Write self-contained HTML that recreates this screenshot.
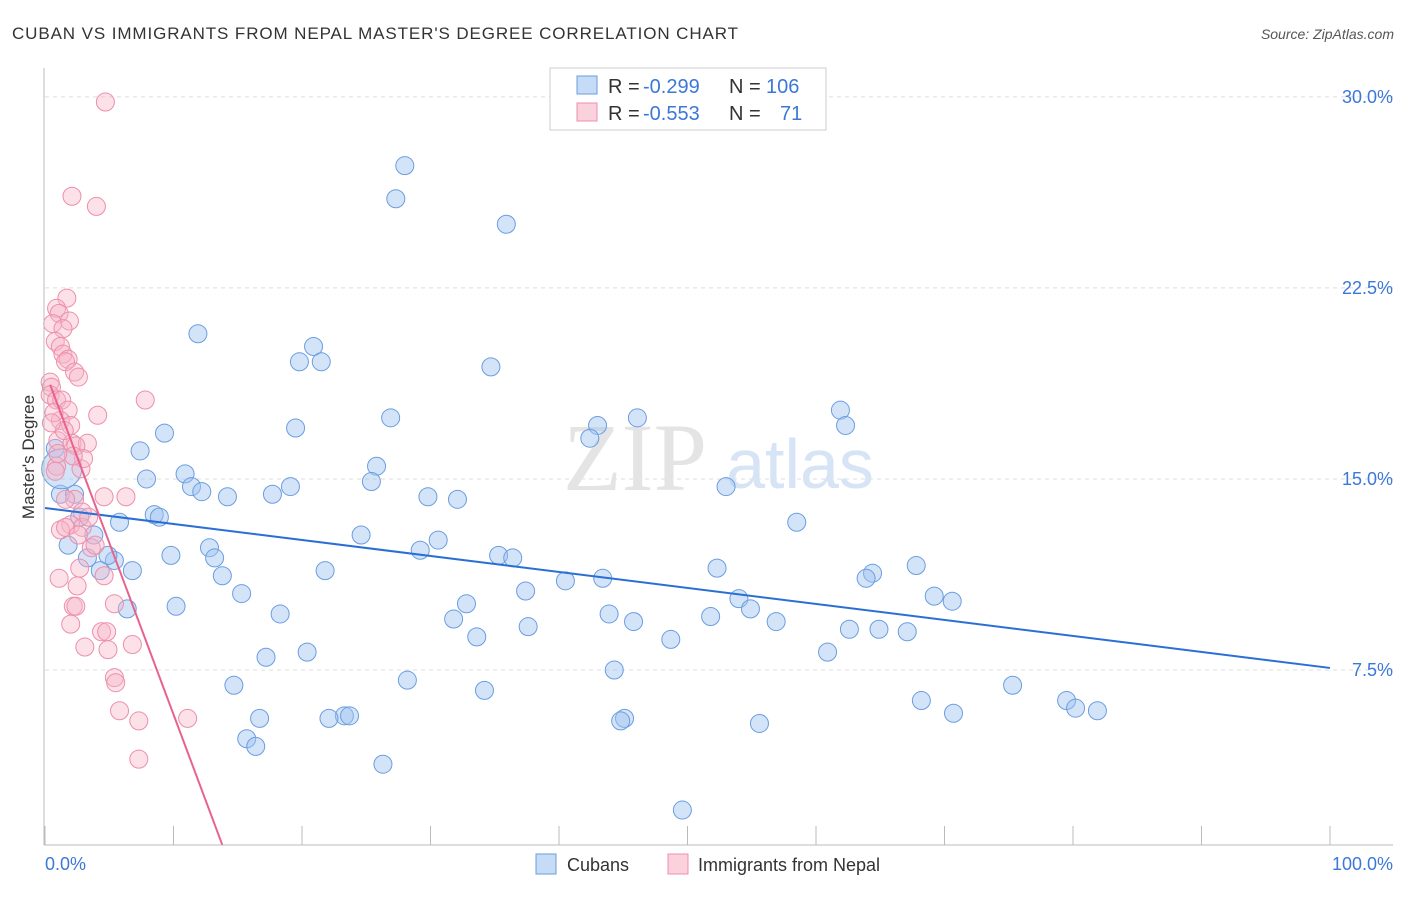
<!DOCTYPE html>
<html><head><meta charset="utf-8"><style>
body{margin:0;background:#fff;font-family:"Liberation Sans",sans-serif}
</style></head><body>
<svg width="1406" height="892" xmlns="http://www.w3.org/2000/svg" font-family="Liberation Sans, sans-serif">
<text x="12" y="39" font-size="17" fill="#333" textLength="726" lengthAdjust="spacing">CUBAN VS IMMIGRANTS FROM NEPAL MASTER'S DEGREE CORRELATION CHART</text>
<text x="1394" y="39" font-size="14" fill="#555" font-style="italic" text-anchor="end">Source: ZipAtlas.com</text>
<g id="grid"></g>
<text x="635" y="490" font-size="96" fill="#e4e4e4" font-family="Liberation Serif, serif" text-anchor="middle">ZIP</text>
<text x="800" y="488" font-size="70" fill="#d6e4f5" text-anchor="middle">atlas</text>
<g id="pts"></g>
<g id="lines"></g>
<line x1="44" y1="68" x2="44" y2="845" stroke="#bbb"/>
<line x1="44" y1="845" x2="1393" y2="845" stroke="#bbb"/>
<text x="34" y="457" font-size="17" fill="#333" text-anchor="middle" transform="rotate(-90 34 457)">Master's Degree</text>
<text x="45" y="870" font-size="18" fill="#3b78d8">0.0%</text>
<text x="1393" y="870" font-size="18" fill="#3b78d8" text-anchor="end">100.0%</text>
<g>
<rect x="550" y="68" width="276" height="62" fill="#fff" stroke="#ccc"/>
<rect x="577" y="76" width="20" height="18" fill="#c6dbf5" stroke="#6a9de0"/>
<rect x="577" y="103" width="20" height="18" fill="#fbd1dd" stroke="#ec8fab"/>
<text y="93" font-size="20" fill="#333"><tspan x="608">R =</tspan><tspan x="643" fill="#3b78d8">-0.299</tspan><tspan x="729">N =</tspan><tspan x="766" fill="#3b78d8">106</tspan></text>
<text y="120" font-size="20" fill="#333"><tspan x="608">R =</tspan><tspan x="643" fill="#3b78d8">-0.553</tspan><tspan x="729">N =</tspan><tspan x="780" fill="#3b78d8">71</tspan></text>
</g>
<g>
<rect x="536" y="854" width="20" height="20" fill="#c6dbf5" stroke="#6a9de0"/>
<text x="567" y="871" font-size="18" fill="#333">Cubans</text>
<rect x="668" y="854" width="20" height="20" fill="#fbd1dd" stroke="#ec8fab"/>
<text x="698" y="871" font-size="18" fill="#333">Immigrants from Nepal</text>
</g>
</svg>
<script>
const yTicks=[7.5,15,22.5,30];
const yTickLabels=["7.5%","15.0%","22.5%","30.0%"];
const xTicks=[0,10,20,30,40,50,60,70,80,90,100];
const cubanX=[28.0,27.3,35.9,11.9,20.9,19.8,21.5,34.7,61.9,26.9,62.3,43.0,46.1,42.4,19.5,9.3,7.4,0.8,25.8,10.9,7.9,11.4,12.2,14.2,17.7,19.1,25.4,29.8,32.1,53.0,1.2,2.3,2.7,8.5,8.9,5.8,58.5,3.8,24.6,30.6,1.8,12.8,3.3,5.4,4.9,9.8,13.2,29.2,35.3,36.4,4.3,6.8,13.8,21.8,52.3,64.4,63.9,67.8,40.5,43.4,15.3,37.4,10.2,6.4,32.8,31.8,18.3,43.9,54.0,54.9,69.2,70.6,51.8,45.8,56.9,37.6,33.6,48.7,62.6,64.9,67.1,60.9,20.4,17.2,44.3,28.2,14.7,34.2,75.3,68.2,79.5,80.2,81.9,70.7,23.3,23.7,22.1,16.7,45.1,44.8,55.6,15.7,16.4,26.3,49.6,1.3];
const cubanY=[27.3,26.0,25.0,20.7,20.2,19.6,19.6,19.4,17.7,17.4,17.1,17.1,17.4,16.6,17.0,16.8,16.1,16.2,15.5,15.2,15.0,14.7,14.5,14.3,14.4,14.7,14.9,14.3,14.2,14.7,14.4,14.4,13.5,13.6,13.5,13.3,13.3,12.8,12.8,12.6,12.4,12.3,11.9,11.8,12.0,12.0,11.9,12.2,12.0,11.9,11.4,11.4,11.2,11.4,11.5,11.3,11.1,11.6,11.0,11.1,10.5,10.6,10.0,9.9,10.1,9.5,9.7,9.7,10.3,9.9,10.4,10.2,9.6,9.4,9.4,9.2,8.8,8.7,9.1,9.1,9.0,8.2,8.2,8.0,7.5,7.1,6.9,6.7,6.9,6.3,6.3,6.0,5.9,5.8,5.7,5.7,5.6,5.6,5.6,5.5,5.4,4.8,4.5,3.8,2.0,15.4];
const nepalX=[4.7,2.1,4.0,1.7,0.9,1.1,1.9,0.6,1.4,0.8,1.2,1.4,1.8,1.6,2.3,2.6,7.8,4.1,0.4,0.5,0.4,0.9,1.3,1.8,1.2,2.0,1.0,2.1,3.3,2.4,2.8,0.9,0.8,4.6,6.3,2.3,2.9,2.0,2.9,1.2,1.6,3.6,3.9,2.7,4.6,1.1,2.5,2.2,2.4,2.0,5.4,4.4,4.8,6.8,3.1,4.9,5.4,5.5,5.8,7.3,11.1,7.3,0.7,1.5,3.0,2.2,0.5,1.0,1.6,2.6,3.4];
const nepalY=[29.8,26.1,25.7,22.1,21.7,21.5,21.2,21.1,20.9,20.4,20.2,19.9,19.7,19.6,19.2,19.0,18.1,17.5,18.8,18.6,18.3,18.1,18.1,17.7,17.3,17.1,16.5,16.4,16.4,16.3,15.4,15.5,15.3,14.3,14.3,14.2,13.7,13.2,13.1,13.0,13.1,12.3,12.4,11.5,11.2,11.1,10.8,10.0,10.0,9.3,10.1,9.0,9.0,8.5,8.4,8.3,7.2,7.0,5.9,5.5,5.6,4.0,17.6,16.9,15.8,15.9,17.2,16.0,14.2,12.8,13.5];
const cubanTrend=[13.86,7.58];
const nepalTrend=[19.24,0.63];
const X=v=>45+v*12.85, Y=v=>861-v*25.47;
const NS='http://www.w3.org/2000/svg';
function mk(t,a,p){const e=document.createElementNS(NS,t);for(const k in a)e.setAttribute(k,a[k]);p.appendChild(e);return e;}
const grid=document.getElementById('grid');
yTicks.forEach((t,i)=>{
 const l=mk('line',{x1:45,x2:1393,y1:Y(t),y2:Y(t),stroke:'#ddd','stroke-dasharray':'4,4'},grid);
 
 
 const tx=mk('text',{x:1393,y:Y(t)+6,'font-size':18,fill:'#3b78d8','text-anchor':'end'},grid);
 tx.textContent=yTickLabels[i];
 
 
});
xTicks.forEach(t=>{
 const l=mk('line',{x1:X(t),x2:X(t),y1:826,y2:845,stroke:'#bbb'},grid);
 
 
});
const pts=document.getElementById('pts');
cubanX.forEach((x,i)=>{
 const c=mk('circle',{cx:X(x),cy:Y(cubanY[i]),r:i==cubanX.length-1?20:9,fill:'rgba(160,195,240,0.45)',stroke:'#6a9de0','stroke-width':1},pts);
 
 
});
nepalX.forEach((x,i)=>{
 const c=mk('circle',{cx:X(x),cy:Y(nepalY[i]),r:9,fill:'rgba(248,180,200,0.4)',stroke:'#ec8fab','stroke-width':1},pts);
 
 
});
const lines=document.getElementById('lines');
const bl=mk('line',{x1:X(0),y1:Y(cubanTrend[0]),x2:X(100),y2:Y(cubanTrend[1]),stroke:'#2a6fd6','stroke-width':2},lines);


const nx1=0.4,nx2=13.8,sl=(nepalTrend[1]-nepalTrend[0])/nx2;
const pl=mk('line',{x1:X(nx1),y1:Y(nepalTrend[0]+sl*nx1),x2:X(nx2),y2:Y(nepalTrend[1]),stroke:'#e8628e','stroke-width':2},lines);


</script>
</body></html>
